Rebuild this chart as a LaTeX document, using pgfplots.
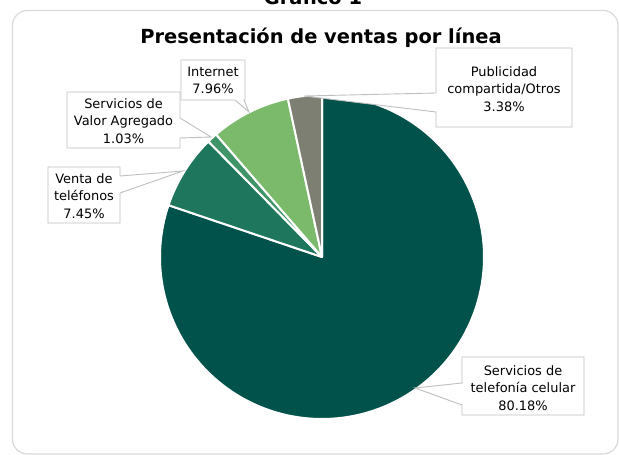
\documentclass[border=0pt]{standalone}
\usepackage{pgfplots}
\pgfplotsset{compat=1.18}
\usepackage{fontspec}
\setmainfont{DejaVu Sans}
\definecolor{cel}{HTML}{00524A}
\definecolor{tel}{HTML}{1E765C}
\definecolor{sva}{HTML}{3F9468}
\definecolor{inet}{HTML}{7BBA6B}
\definecolor{pub}{HTML}{7E7F73}
\definecolor{bord}{HTML}{D9D9D9}
\definecolor{callb}{HTML}{BFBFBF}
% shares (percent), clockwise from 12 o'clock
\def\sCel{80.18}
\def\sTel{7.45}
\def\sSva{1.03}
\def\sInet{7.96}
\def\sPub{3.38}
\pgfmathsetmacro\aA{90}
\pgfmathsetmacro\aB{\aA-3.6*\sCel}
\pgfmathsetmacro\aC{\aB-3.6*\sTel}
\pgfmathsetmacro\aD{\aC-3.6*\sSva}
\pgfmathsetmacro\aE{\aD-3.6*\sInet}
\pgfmathsetmacro\aF{\aE-3.6*\sPub}
\newcommand\lbl{\fontsize{13}{17.3}\selectfont}
\begin{document}
\begin{tikzpicture}[x=1bp,y=-1bp]
\useasboundingbox (0,0) rectangle (619,455);
\draw[bord, line width=1.2bp, rounded corners=15bp] (12.5,10.5) rectangle (618,454);
\node[anchor=base, font=\bfseries\fontsize{19.5}{22}\selectfont] at (313,5) {Gráfico 1};
\node[anchor=base, font=\bfseries\fontsize{19.5}{22}\selectfont] at (321,44) {Presentación de ventas por línea};
\begin{axis}[at={(322bp,-257bp)}, anchor=center, scale only axis, width=324bp, height=324bp,
  xmin=-1, xmax=1, ymin=-1, ymax=1, hide axis, clip=false]
\addplot[fill=cel, draw=white, line width=2bp, line join=round, domain=\aB:\aA, samples=160, variable=\t] ({cos(\t)},{sin(\t)}) -- (0,0) -- cycle;
\addplot[fill=tel, draw=white, line width=2bp, line join=round, domain=\aC:\aB, samples=30, variable=\t] ({cos(\t)},{sin(\t)}) -- (0,0) -- cycle;
\addplot[fill=sva, draw=white, line width=2bp, line join=round, domain=\aD:\aC, samples=8, variable=\t] ({cos(\t)},{sin(\t)}) -- (0,0) -- cycle;
\addplot[fill=inet, draw=white, line width=2bp, line join=round, domain=\aE:\aD, samples=30, variable=\t] ({cos(\t)},{sin(\t)}) -- (0,0) -- cycle;
\addplot[fill=pub, draw=white, line width=2bp, line join=round, domain=\aF:\aE, samples=15, variable=\t] ({cos(\t)},{sin(\t)}) -- (0,0) -- cycle;
\end{axis}
% callouts
\begin{scope}[callb, line width=0.9bp, fill=white]
\filldraw (181,60) -- (245,60) -- (245,100) -- (244,100) -- (249,112) -- (235,100) -- (181,100) -- cycle;
\filldraw (67,92) -- (180,92) -- (180,118) -- (211,137) -- (180,138) -- (180,148) -- (67,148) -- cycle;
\filldraw (48,167) -- (120,167) -- (120,176) -- (183,171) -- (120,193) -- (120,223) -- (48,223) -- cycle;
\filldraw (436,48) -- (572,48) -- (572,127) -- (436,127) -- (436,112) -- (304,96) -- (436,93) -- cycle;
\filldraw (462,357) -- (584,357) -- (584,415) -- (462,415) -- (462,405) -- (415,388) -- (462,383) -- cycle;
\end{scope}
\node[align=center, font=\lbl, inner sep=0pt] at (213,80.5) {Internet\\7.96\%};
\node[align=center, font=\lbl, inner sep=0pt] at (123.5,121) {Servicios de\\Valor Agregado\\1.03\%};
\node[align=center, font=\lbl, inner sep=0pt] at (84,196) {Venta de\\teléfonos\\7.45\%};
\node[align=center, font=\lbl, inner sep=0pt] at (504,89) {Publicidad\\compartida/Otros\\3.38\%};
\node[align=center, font=\lbl, inner sep=0pt] at (523,388) {Servicios de\\telefonía celular\\80.18\%};
\end{tikzpicture}
\end{document}
